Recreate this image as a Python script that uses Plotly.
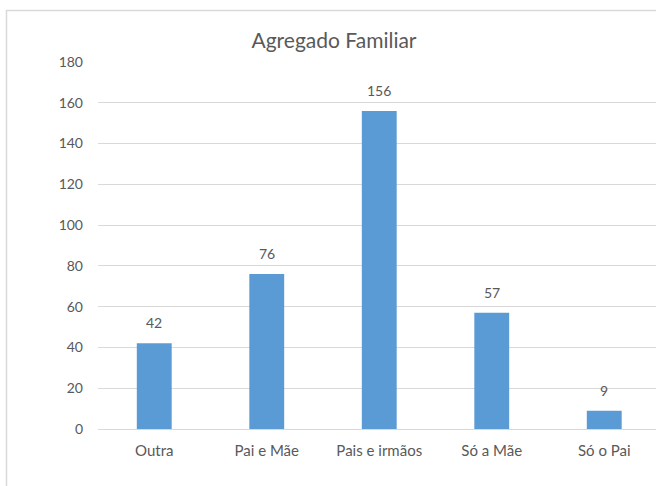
import plotly.graph_objects as go

categories = ["Outra", "Pai e Mãe", "Pais e irmãos", "Só a Mãe", "Só o Pai"]
values = [42, 76, 156, 57, 9]
y_ticks = [0, 20, 40, 60, 80, 100, 120, 140, 160, 180]

BAR = "#5b9bd5"
TXT = "#595959"
GRID = "#d9d9d9"
FONT = "Lato"

fig = go.Figure()
fig.add_trace(go.Bar(
    x=list(range(len(categories))), y=values, width=0.31,
    marker=dict(color=BAR, line=dict(width=0)),
    hoverinfo="skip",
))

for i, v in enumerate(values):
    fig.add_annotation(x=i, y=v, text=str(v), showarrow=False,
                       yanchor="bottom", yshift=10,
                       font=dict(family=FONT, size=14, color=TXT))

L, T, R, B = 98, 62, 0, 57
W, H = 656, 486
pw = W - L - R
ph = H - T - B
unit = 112.5
xmax = -0.5 + pw / unit

fig.add_shape(type="rect", xref="paper", yref="paper",
              x0=(6.5 - L) / pw, x1=2.0, y0=-1.0, y1=(H - B - 10.5) / ph,
              line=dict(color="#d9d9d9", width=1.5), fillcolor="rgba(0,0,0,0)",
              layer="below")

fig.update_layout(
    width=W, height=H,
    margin=dict(l=L, r=R, t=T, b=B, autoexpand=False),
    paper_bgcolor="white", plot_bgcolor="white",
    showlegend=False,
    title=dict(text="Agregado Familiar", x=334 / W, xanchor="center",
               y=1 - 41 / H, yanchor="middle", yref="container",
               font=dict(family=FONT, size=21, color=TXT)),
    xaxis=dict(range=[-0.5, xmax], tickmode="array",
               tickvals=list(range(len(categories))), ticktext=categories,
               showgrid=False, zeroline=False, showline=False, ticks="",
               ticklabelstandoff=11, fixedrange=True,
               tickfont=dict(family=FONT, size=15, color=TXT)),
    yaxis=dict(range=[0, 180], tickmode="array", tickvals=y_ticks,
               showgrid=True, gridcolor=GRID, gridwidth=1,
               zeroline=True, zerolinecolor=GRID, zerolinewidth=1,
               showline=False, ticks="", ticklabelstandoff=14, fixedrange=True,
               tickfont=dict(family=FONT, size=14, color=TXT)),
)

fig.write_html("out.html", config={"displayModeBar": False},
               post_script="document.body.style.margin='0';document.body.style.overflow='hidden';")
